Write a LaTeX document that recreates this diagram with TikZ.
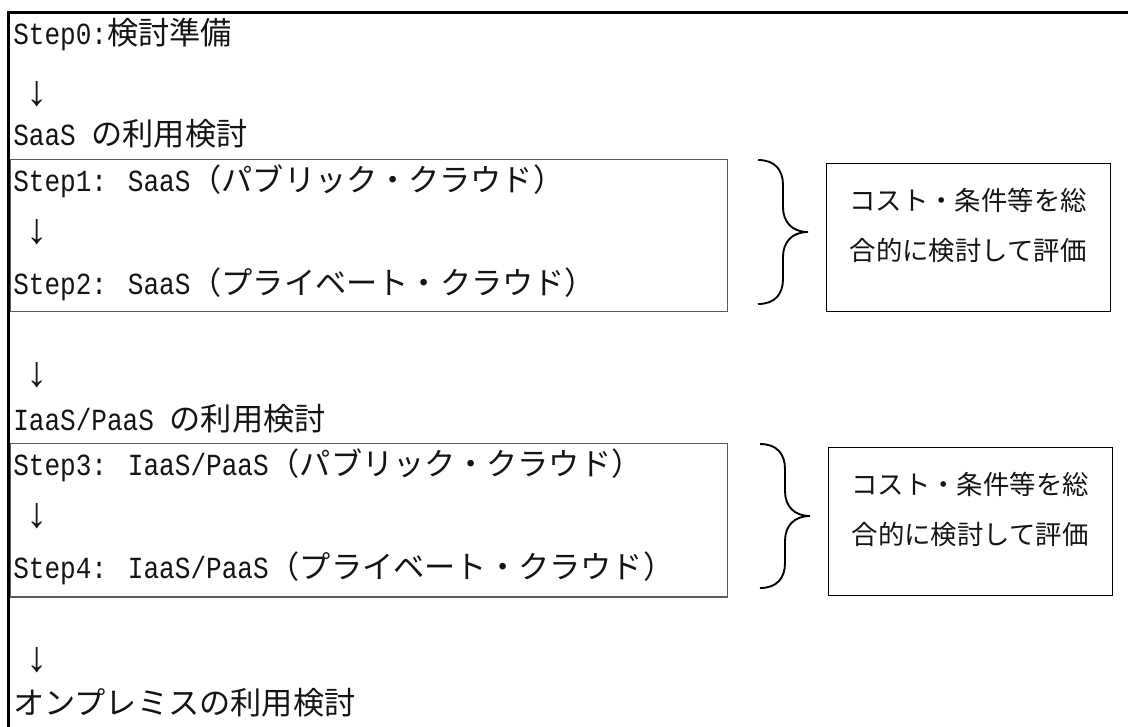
\documentclass[tikz,border=0pt]{standalone}
\usepackage{fontspec}
\setmainfont{Liberation Serif}
\newfontfamily\latf{Liberation Mono}[FakeStretch=0.85]
\newfontfamily\jpf{Noto Sans CJK JP}
\newfontfamily\arwf{Liberation Serif}
\newcommand\LAT{\latf\fontsize{23pt}{28pt}\selectfont}
\newcommand\JPN{\jpf\fontsize{23.4pt}{28pt}\selectfont}
\newcommand\ARW{\arwf\fontsize{32pt}{36pt}\selectfont}
\definecolor{ink}{RGB}{20,20,20}
\definecolor{boxgray}{RGB}{90,90,90}
\tikzset{
  row/.style={anchor=base west, inner sep=0pt, text=ink},
  arw/.style={anchor=center, inner sep=0pt, text=ink, font=\ARW},
  stepbox/.style={draw=boxgray, line width=0.9pt, anchor=north west, inner sep=0pt, minimum width=537.75pt},
  evalbox/.style={draw=black, line width=1.1pt, anchor=north west, inner sep=0pt, minimum width=213pt},
  evaltext/.style={anchor=center, inner sep=0pt, align=center, text=ink, font=\jpf\fontsize{19.8pt}{37.5pt}\selectfont},
  framebox/.style={draw=black, line width=2.2pt, anchor=north west, inner sep=0pt, minimum width=900pt, minimum height=620pt},
  pics/brc/.style={code={
    \draw[line width=1.4pt, black] (-50,-72) .. controls (-33,-72) and (-25,-62) .. (-25,-47) -- (-25,-25)
      .. controls (-25,-10) and (-16,0) .. (0,0)
      .. controls (-16,0) and (-25,10) .. (-25,25) -- (-25,47)
      .. controls (-25,62) and (-33,72) .. (-50,72);
  }}
}
\begin{document}
\begin{tikzpicture}[x=0.75pt,y=-0.75pt]
\useasboundingbox (0,0) rectangle (1128,726);
\clip (0,0) rectangle (1128,726);
\fill[white] (0,0) rectangle (1128,726);
\node[framebox] (frame) at (7,11) {};

% top part
\node[row] (s0) at (13,44) {{\LAT Step0:}{\JPN 検討準備}};
\node[arw] (a0) at (37,94) {↓};
\node[row] (saas) at (13,145) {{\LAT SaaS }{\JPN の利用検討}};

% section 1
\node[stepbox, minimum height=114pt] (box1) at (10,159) {};
\node[row] (s1) at (13,191) {{\LAT Step1: SaaS}{\JPN （パブリック・クラウド）}};
\node[arw] (a1) at (37,232) {↓};
\node[row] (s2) at (13,294) {{\LAT Step2: SaaS}{\JPN （プライベート・クラウド）}};
\pic at (808,232) {brc};
\node[evalbox, minimum height=111pt] (ev1) at (826,163) {};
\node[evaltext] (ev1t) at (968,225) {コスト・条件等を総\\合的に検討して評価};

\node[arw] (a2) at (37,375) {↓};
\node[row] (iaas) at (13,430) {{\LAT IaaS/PaaS }{\JPN の利用検討}};

% section 2
\node[stepbox, minimum height=115pt] (box2) at (10,443) {};
\node[row] (s3) at (13,475) {{\LAT Step3: IaaS/PaaS}{\JPN （パブリック・クラウド）}};
\node[arw] (a3) at (37,516) {↓};
\node[row] (s4) at (13,578) {{\LAT Step4: IaaS/PaaS}{\JPN （プライベート・クラウド）}};
\pic at (810,516) {brc};
\node[evalbox, minimum height=111pt] (ev2) at (828,447) {};
\node[evaltext] (ev2t) at (970,509) {コスト・条件等を総\\合的に検討して評価};

\node[arw] (a4) at (37,660) {↓};
\node[row] (onp) at (13,714) {{\JPN オンプレミスの利用検討}};
\end{tikzpicture}
\end{document}
